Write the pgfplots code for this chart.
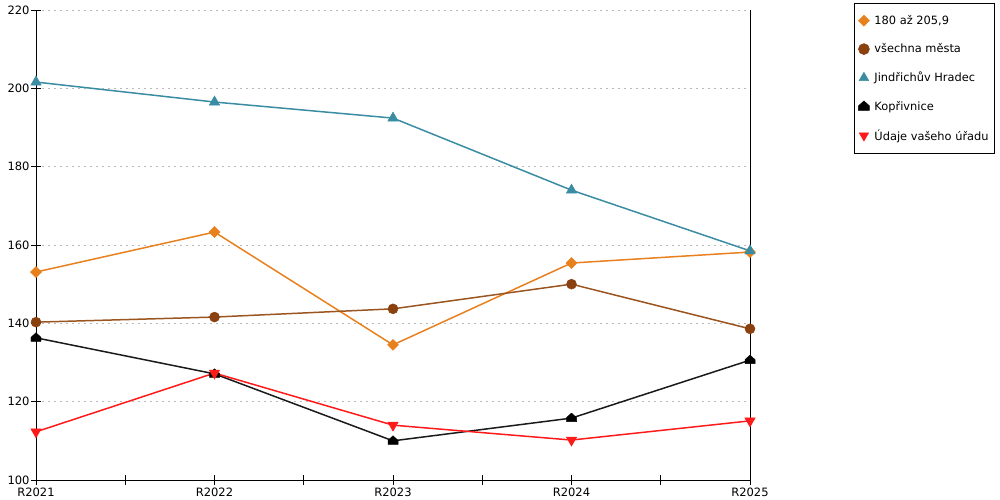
\documentclass[border=0pt]{standalone}
\usepackage{fontspec}
\setmainfont{DejaVu Sans}
\usepackage{pgfplots}
\pgfplotsset{compat=1.18}
\definecolor{corange}{HTML}{E8801E}
\definecolor{cbrown}{HTML}{9A5520}
\definecolor{cbrownm}{HTML}{8B4010}
\definecolor{cteal}{HTML}{3A8CA2}
\definecolor{cblack}{HTML}{1A1A1A}
\definecolor{cred}{HTML}{FF1A1A}
\pgfdeclareplotmark{house}{%
  \pgfpathmoveto{\pgfqpoint{-\pgfplotmarksize}{-0.7\pgfplotmarksize}}%
  \pgfpathlineto{\pgfqpoint{\pgfplotmarksize}{-0.7\pgfplotmarksize}}%
  \pgfpathlineto{\pgfqpoint{\pgfplotmarksize}{0.1\pgfplotmarksize}}%
  \pgfpathlineto{\pgfqpoint{0pt}{\pgfplotmarksize}}%
  \pgfpathlineto{\pgfqpoint{-\pgfplotmarksize}{0.1\pgfplotmarksize}}%
  \pgfpathclose
  \pgfusepathqfillstroke}
\pgfdeclareplotmark{rdiamond}{%
  \pgfpathmoveto{\pgfqpoint{0pt}{\pgfplotmarksize}}%
  \pgfpathlineto{\pgfqpoint{\pgfplotmarksize}{0pt}}%
  \pgfpathlineto{\pgfqpoint{0pt}{-\pgfplotmarksize}}%
  \pgfpathlineto{\pgfqpoint{-\pgfplotmarksize}{0pt}}%
  \pgfpathclose
  \pgfusepathqfillstroke}
\begin{document}
\begin{tikzpicture}
\path[use as bounding box] (0,0) rectangle (1000bp,500bp);
\begin{axis}[
  at={(36bp,20bp)}, anchor=south west,
  scale only axis, width=714bp, height=470bp,
  xmin=0, xmax=4, ymin=100, ymax=220,
  xtick={0,1,2,3,4},
  xticklabels={R2021,R2022,R2023,R2024,R2025},
  minor xtick={0.5,1.5,2.5,3.5},
  ytick={100,120,...,220},
  axis x line*=bottom, axis y line*=left,
  axis line style={black, line width=0.8pt, -},
  tick style={black, line width=0.8pt},
  major tick length=10bp, minor tick length=10bp,
  tick align=center,
  ymajorgrids, grid style={gray!55, dash pattern=on 2bp off 4bp, line width=0.6pt},
  tick label style={font=\fontsize{11.5bp}{13bp}\selectfont},
  /pgf/number format/assume math mode=true,
  xticklabel style={yshift=1bp},
  yticklabel style={xshift=2bp},
  clip=false,
  legend style={at={(1.1457,1.0149)}, anchor=north west, draw=black, line width=0.8pt,
    font=\fontsize{11.4bp}{14bp}\selectfont, row sep=13.8bp,
    inner xsep=4bp, inner ysep=10bp,
    /tikz/every odd column/.append style={column sep=3bp}},
  legend cell align=left,
  legend image code/.code={\draw[#1, line width=0.4pt, mark size=5.5bp] plot coordinates {(0.25cm,0cm)};},
]
\addplot[corange, line width=1.5pt, mark=rdiamond, mark size=5.5bp, mark options={fill=corange, draw=corange, line width=0.5pt}]
  coordinates {(0,153.1) (1,163.3) (2,134.5) (3,155.4) (4,158.2)};
\addlegendentry{180 až 205,9}
\addplot[cbrown, line width=1.5pt, mark=*, mark size=5bp, mark options={fill=cbrownm, draw=cbrownm, line width=0.5pt}]
  coordinates {(0,140.3) (1,141.6) (2,143.7) (3,150.0) (4,138.6)};
\addlegendentry{všechna města}
\addplot[cteal, line width=1.5pt, mark=triangle*, mark size=6bp, mark options={fill=cteal, draw=cteal, line width=0.5pt}]
  coordinates {(0,201.6) (1,196.5) (2,192.4) (3,174.0) (4,158.5)};
\addlegendentry{Jindřichův Hradec}
\addplot[cblack, line width=1.5pt, mark=house, mark size=5bp, mark options={fill=black, draw=black, line width=0.5pt}]
  coordinates {(0,136.3) (1,127.1) (2,110.0) (3,115.8) (4,130.6)};
\addlegendentry{Kopřivnice}
\addplot[cred, line width=1.5pt, mark=triangle*, mark size=6bp, mark options={fill=cred, draw=cred, rotate=180, line width=0.5pt}]
  coordinates {(0,112.3) (1,127.3) (2,114.0) (3,110.2) (4,115.1)};
\addlegendentry{Údaje vašeho úřadu}
\draw[black, line width=0.8pt] (axis cs:4,100) -- (axis cs:4,220);
\end{axis}
\end{tikzpicture}
\end{document}
